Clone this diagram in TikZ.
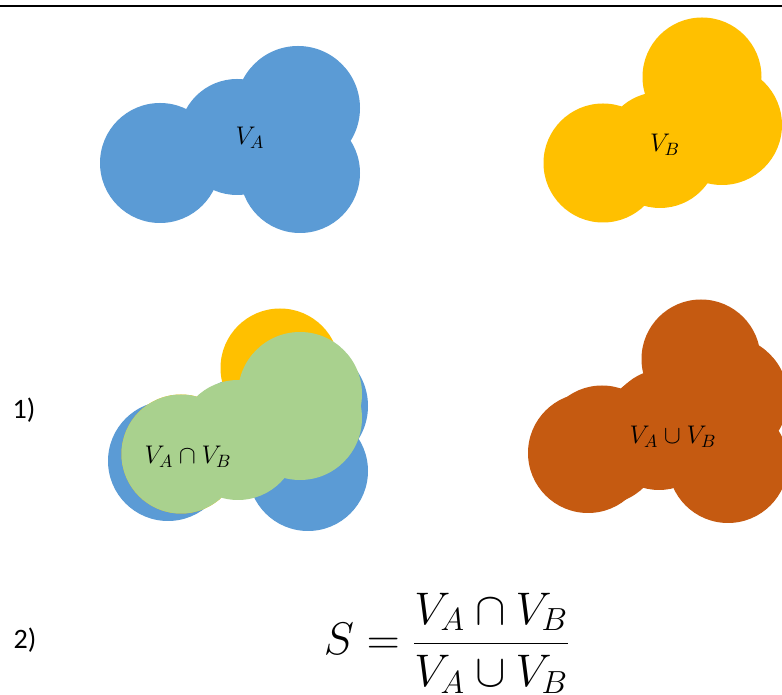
\RequirePackage{fix-cm}
\documentclass[tikz,border=0pt]{standalone}
\usepackage{fontspec}
\newfontfamily\numfont{Carlito}
\definecolor{vablue}{HTML}{5B9BD5}
\definecolor{vbyellow}{HTML}{FFC000}
\definecolor{capgreen}{HTML}{A9D18E}
\definecolor{cuporange}{HTML}{C55A11}
% atom centres and radii (x/y/r) of the two volumes
\newcommand{\atomsA}{160/163/60, 237/137/58, 298/108/62, 300/173/60}
\newcommand{\atomsB}{702/77/59.5, 722/125/60, 603/163/59.5, 660/150/58}
% overlap region, drawn in place
\newcommand{\atomsG}{181/454/59.5, 238/440/60, 300/394/62, 300/418/62}
\tikzset{
  vol/.style={font=\fontsize{14.5}{17}\selectfont},
  steplbl/.style={font=\numfont\fontsize{16}{19}\selectfont},
}
\begin{document}
\begin{tikzpicture}[x=0.02cm,y=-0.02cm]
\useasboundingbox (0,0) rectangle (782,695);
\draw[line width=1.4pt] (0,6)--(782,6);
% V_A and V_B
\fill[vablue] \foreach \px/\py/\r in \atomsA {(\px,\py) circle (\r)};
\fill[vbyellow] \foreach \px/\py/\r in \atomsB {(\px,\py) circle (\r)};
\node[vol] (va) at (250,138) {$V_A$};
\node[vol] (vb) at (665,145) {$V_B$};
% intersection
\fill[vablue,shift={(8,298)}] \foreach \px/\py/\r in \atomsA {(\px,\py) circle (\r)};
\fill[vbyellow,shift={(-422,291)}] \foreach \px/\py/\r in \atomsB {(\px,\py) circle (\r)};
\fill[capgreen] \foreach \px/\py/\r in \atomsG {(\px,\py) circle (\r)};
\node[vol] (cap) at (188,457) {$V_A\cap V_B$};
% union
\fill[cuporange,shift={(428,290)}] \foreach \px/\py/\r in \atomsA {(\px,\py) circle (\r)};
\fill[cuporange,shift={(-1,282)}] \foreach \px/\py/\r in \atomsB {(\px,\py) circle (\r)};
\node[vol] (cup) at (673,437) {$V_A\cup V_B$};
% labels and formula
\node[steplbl] (one) at (24,410) {1)};
\node[steplbl] (two) at (25,640) {2)};
\node[font=\fontsize{26}{31}\selectfont,anchor=base] (sim) at (447,655)
  {$\displaystyle S=\frac{V_A\cap V_B}{\rule{0pt}{23pt}V_A\cup V_B}$};
\end{tikzpicture}
\end{document}
